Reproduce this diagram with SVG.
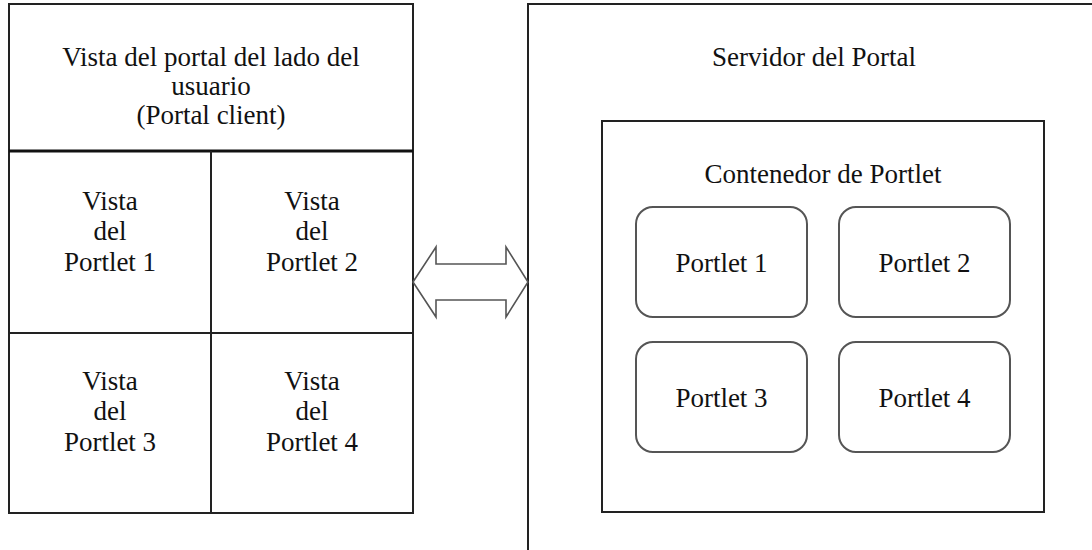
<svg xmlns="http://www.w3.org/2000/svg" width="1092" height="550" viewBox="0 0 1092 550">
<style>
text{font-family:"Liberation Serif","Times New Roman",serif;font-size:27px;fill:#111;text-anchor:middle}
.box{fill:#fff;stroke:#222;stroke-width:2}
.cell{fill:none;stroke:#222;stroke-width:2}
.pl{fill:#fff;stroke:#555;stroke-width:2}
.arrow{fill:#fff;stroke:#555;stroke-width:1.6;stroke-linejoin:miter}
</style>
<rect width="1092" height="550" fill="#fff"/>
<g id="client">
<rect class="box" x="9" y="4" width="404" height="509"/>
<line x1="9" y1="151" x2="413" y2="151" stroke="#111" stroke-width="3"/>
<text x="211" y="66">Vista del portal del lado del</text>
<text x="211" y="95">usuario</text>
<text x="211" y="124">(Portal client)</text>
</g>
<g id="view-grid">
<line class="cell" x1="211" y1="151" x2="211" y2="513"/>
<line class="cell" x1="9" y1="333" x2="413" y2="333"/>
</g>
<g id="view1"><text x="110" y="210">Vista</text><text x="110" y="240">del</text><text x="110" y="271">Portlet 1</text></g>
<g id="view2"><text x="312" y="210">Vista</text><text x="312" y="240">del</text><text x="312" y="271">Portlet 2</text></g>
<g id="view3"><text x="110" y="390">Vista</text><text x="110" y="420">del</text><text x="110" y="451">Portlet 3</text></g>
<g id="view4"><text x="312" y="390">Vista</text><text x="312" y="420">del</text><text x="312" y="451">Portlet 4</text></g>
<g id="server">
<rect class="box" x="528" y="4" width="600" height="600" stroke-width="1.6"/>
<text x="814" y="66">Servidor del Portal</text>
</g>
<g id="container">
<rect class="box" x="602" y="121" width="442" height="391" stroke-width="1.8"/>
<text x="823" y="183">Contenedor de Portlet</text>
</g>
<g id="portlet1"><rect class="pl" x="636" y="207" width="171" height="110" rx="17"/><text x="721.5" y="272">Portlet 1</text></g>
<g id="portlet2"><rect class="pl" x="839" y="207" width="171" height="110" rx="17"/><text x="924.5" y="272">Portlet 2</text></g>
<g id="portlet3"><rect class="pl" x="636" y="342" width="171" height="110" rx="17"/><text x="721.5" y="407">Portlet 3</text></g>
<g id="portlet4"><rect class="pl" x="839" y="342" width="171" height="110" rx="17"/><text x="924.5" y="407">Portlet 4</text></g>
<g id="connectors">
<polygon class="arrow" points="413,282 436,247 436,264 506,264 506,247 528,282 506,317 506,300 436,300 436,317"/>
</g>
</svg>
